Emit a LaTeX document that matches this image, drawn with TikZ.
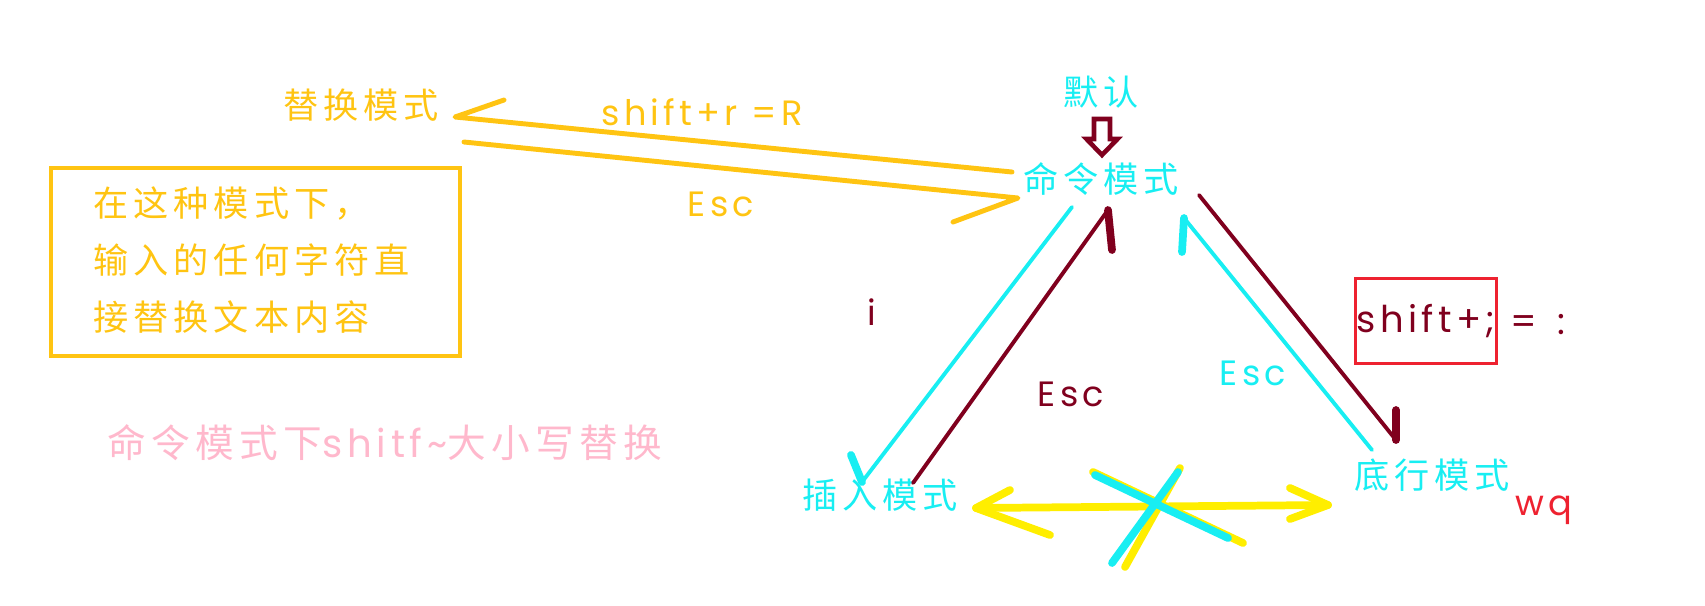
\documentclass[tikz,border=0pt]{standalone}
\usepackage{fontspec}
\newfontfamily\cjkfont[LetterSpace=14]{Noto Sans CJK SC}
\newfontfamily\keyfont[LetterSpace=12]{Poppins}
\usetikzlibrary{positioning}
\definecolor{modecyan}{RGB}{24,238,242}
\definecolor{goldtone}{RGB}{255,196,18}
\definecolor{darkwine}{RGB}{128,0,30}
\definecolor{brightyellow}{RGB}{255,238,0}
\definecolor{boxred}{RGB}{238,34,48}
\definecolor{softpink}{RGB}{255,184,204}

\begin{document}
\begin{tikzpicture}[x=0.01cm, y=-0.01cm,
    mode/.style={font=\cjkfont\fontsize{10}{12}\selectfont, text=modecyan, inner sep=0pt},
    key/.style={font=\keyfont\fontsize{10}{12}\selectfont, inner sep=0pt},
    stroke/.style={line width=1.1pt, line cap=round, line join=round},
    barb/.style={line width=2.2pt, line cap=round, line join=round}
  ]
    \useasboundingbox (0,0) rectangle (1705,605);

    % modes
    \node[mode, text=goldtone] (replace) at (361,105) {替换模式};
    \node[mode] (default) at (1101,92) {默认};
    \node[mode] (command) at (1101,179) {命令模式};
    \node[mode] (insert) at (880,495) {插入模式};
    \node[mode] (lastline) at (1432,475) {底行模式};

    % note on replace mode
    \node[draw=goldtone, line width=1.1pt, minimum width=4.09cm, minimum height=1.88cm] (notebox) at (255.5,262) {};
    \node[mode, text=goldtone, anchor=west, align=left, font=\cjkfont\fontsize{10}{16.2}\selectfont] (note) at (93,260)
      {在这种模式下，\\输入的任何字符直\\接替换文本内容};
    \node[mode, text=softpink, font=\cjkfont\fontsize{11}{13}\selectfont] (hint) at (385,443)
      {命令模式下{\keyfont shitf\textasciitilde}大小写替换};

    % keys
    \node[key, text=goldtone] (shiftr) at (702,112) {shift+r =R};
    \node[key, text=goldtone] (escgold) at (721,204) {Esc};
    \node[key, text=darkwine] (keyi) at (872,312) {i};
    \node[key, text=darkwine] (escred) at (1071,394) {Esc};
    \node[key, text=modecyan] (esccyan) at (1253,373) {Esc};
    \node[key, draw=boxred, line width=1.1pt, minimum width=1.41cm, minimum height=0.85cm,
          text=darkwine, font=\keyfont\fontsize{10.5}{13}\selectfont] (shiftkey) at (1426,321) {shift+;};
    \node[key, text=darkwine, font=\keyfont\fontsize{10.5}{13}\selectfont] (keyeq) at (1538,325) {=\hspace{0.2cm}:};
    \node[key, text=boxred] (wq) at (1544,510) {wq};

    % default arrow
    \draw[darkwine, line width=1.3pt, line join=miter]
      (1094,119) -- (1110,119) -- (1110,139) -- (1117.5,139) -- (1102,155) -- (1086.5,139) -- (1094,139) -- cycle;

    % replace <-> command
    \coordinate (rtip) at (455,117);
    \coordinate (rbarb) at (504,100);
    \coordinate (rend) at (1012,172);
    \coordinate (cstart) at (464,142);
    \coordinate (ctip) at (1018,198);
    \coordinate (cbarb) at (953,222);
    \draw[stroke, goldtone, line width=1.4pt] (rbarb) -- (rtip) -- (rend);
    \draw[stroke, goldtone, line width=1.4pt] (cstart) -- (ctip) -- (cbarb);

    % command <-> insert
    \coordinate (ia) at (1072,207);
    \coordinate (itip) at (862,482);
    \coordinate (ibarb) at (851,455);
    \draw[stroke, modecyan] (ia) -- (itip);
    \draw[barb, modecyan] (ibarb) -- (itip);
    \coordinate (ua) at (913,483);
    \coordinate (utip) at (1108,210);
    \coordinate (ubarb) at (1112,250);
    \draw[stroke, darkwine] (ua) -- (utip);
    \draw[barb, darkwine] (utip) -- (ubarb);

    % command <-> last line
    \coordinate (la) at (1372,450);
    \coordinate (ltip) at (1184,218);
    \coordinate (lbarb) at (1182,252);
    \draw[stroke, modecyan] (la) -- (ltip);
    \draw[barb, modecyan] (ltip) -- (lbarb);
    \coordinate (da) at (1199,195);
    \coordinate (dtip) at (1396,440);
    \coordinate (dbarb) at (1396,410);
    \draw[stroke, darkwine] (da) -- (dtip);
    \draw[barb, darkwine] (dbarb) -- (dtip);

    % insert <-> last line, crossed out
    \coordinate (yl) at (976,508);
    \coordinate (yr) at (1328,505);
    \draw[barb, brightyellow] (yl) -- (yr);
    \draw[barb, brightyellow] (1010,490) -- (yl) -- (1050,535);
    \draw[barb, brightyellow] (1290,488) -- (yr) -- (1290,519);
    \draw[barb, brightyellow] (1093,472) -- (1243,543);
    \draw[barb, brightyellow] (1180,468) -- (1125,567);
    \draw[barb, modecyan] (1095,475) -- (1228,538);
    \draw[barb, modecyan] (1178,472) -- (1112,563);
  \end{tikzpicture}
\end{document}
